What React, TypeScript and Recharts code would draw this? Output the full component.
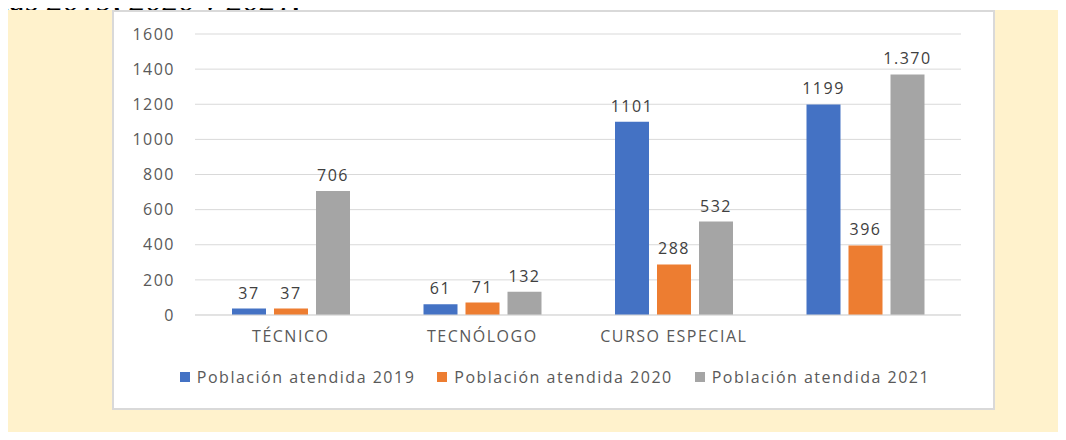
import { BarChart, Bar, XAxis, YAxis, CartesianGrid, LabelList } from "recharts";

const categories = ["TÉCNICO", "TECNÓLOGO", "CURSO ESPECIAL", ""];
const seriesNames = ["Población atendida 2019", "Población atendida 2020", "Población atendida 2021"];
const colors = ["#4472C4", "#ED7D31", "#A5A5A5"];
const values2019 = [37, 61, 1101, 1199];
const values2020 = [37, 71, 288, 396];
const values2021 = [706, 132, 532, 1370];
const labels2021 = ["706", "132", "532", "1.370"];
const yTicks = [0, 200, 400, 600, 800, 1000, 1200, 1400, 1600];

const data = categories.map((name, i) => ({
  name,
  v2019: values2019[i],
  v2020: values2020[i],
  v2021: values2021[i],
  l2021: labels2021[i],
}));

const font = "'Open Sans', sans-serif";
const textStyle = { fontFamily: font, fontSize: 16, letterSpacing: 1.5 };

// leyenda dibujada aparte para controlar la posición exacta
function ChartLegend() {
  return (
    <div
      style={{
        position: "absolute",
        left: 145,
        width: 820,
        top: 366,
        display: "flex",
        justifyContent: "center",
        gap: 22,
        ...textStyle,
        color: "#595959",
        lineHeight: "22px",
      }}
    >
      {seriesNames.map((n, i) => (
        <span key={n} style={{ display: "flex", alignItems: "center", gap: 7 }}>
          <span style={{ width: 10, height: 10, background: colors[i], display: "inline-block" }} />
          {n}
        </span>
      ))}
    </div>
  );
}

export default function App() {
  return (
    <div style={{ position: "relative", width: 1066, height: 440, margin: -8, background: "#fff", overflow: "hidden" }}>
      <div
        style={{
          position: "absolute",
          left: 0,
          top: -16,
          fontFamily: "'Liberation Serif', serif",
          fontStyle: "italic",
          fontSize: 33,
          lineHeight: "32px",
          whiteSpace: "nowrap",
          color: "#000",
        }}
      >
        tas 2019, 2020 y 2021.
      </div>
      <div style={{ position: "absolute", left: 7, top: 10, width: 1059, height: 430, background: "#FFF2CC" }} />
      <div
        style={{
          position: "absolute",
          left: 112,
          top: 10,
          width: 879,
          height: 396,
          background: "#fff",
          border: "2px solid #D9D9D9",
        }}
      />
      <div style={{ position: "absolute", left: 0, top: 0 }}>
        <BarChart
          width={1066}
          height={440}
          data={data}
          margin={{ top: 34, right: 105, left: 135, bottom: 65 }}
          barSize={34}
          barGap={8}
        >
          <CartesianGrid vertical={false} stroke="#D9D9D9" />
          <XAxis
            dataKey="name"
            axisLine={{ stroke: "#D9D9D9" }}
            tickLine={false}
            tickMargin={10}
            height={60}
            tick={{ fill: "#595959", ...textStyle }}
            interval={0}
          />
          <YAxis
            width={60}
            domain={[0, 1600]}
            ticks={yTicks}
            axisLine={false}
            tickLine={false}
            tickMargin={14}
            tick={{ fill: "#595959", ...textStyle }}
          />
          <Bar dataKey="v2019" name={seriesNames[0]} fill={colors[0]} isAnimationActive={false}>
            <LabelList dataKey="v2019" position="top" offset={10} fill="#404040" style={textStyle} />
          </Bar>
          <Bar dataKey="v2020" name={seriesNames[1]} fill={colors[1]} isAnimationActive={false}>
            <LabelList dataKey="v2020" position="top" offset={10} fill="#404040" style={textStyle} />
          </Bar>
          <Bar dataKey="v2021" name={seriesNames[2]} fill={colors[2]} isAnimationActive={false}>
            <LabelList dataKey="l2021" position="top" offset={10} fill="#404040" style={textStyle} />
          </Bar>
        </BarChart>
      </div>
      <ChartLegend />
    </div>
  );
}
